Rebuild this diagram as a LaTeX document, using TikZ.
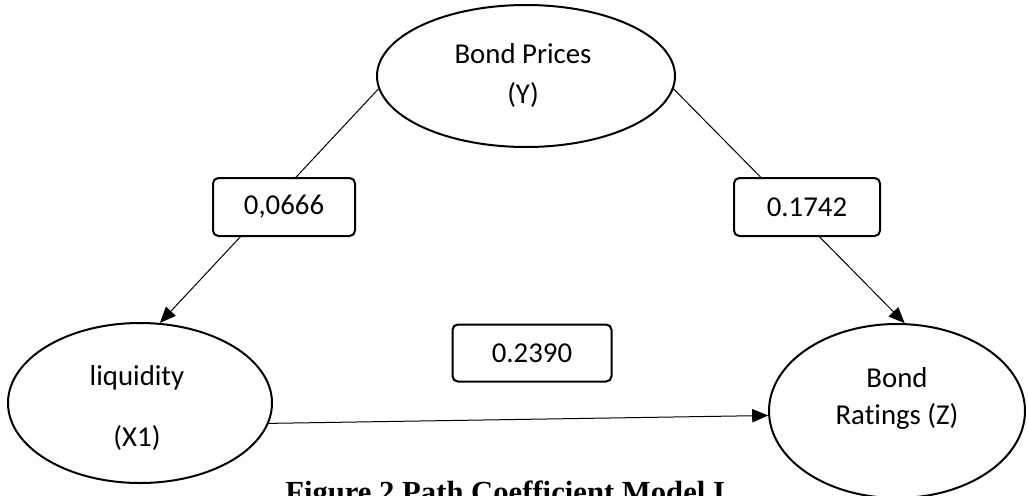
\documentclass[tikz,border=0pt]{standalone}
\usepackage{fontspec}
\setmainfont[Ligatures=NoCommon]{Carlito}
\newfontfamily\capfont{Liberation Serif}
\usetikzlibrary{shapes.geometric,arrows.meta}
\tikzset{
  var/.style={ellipse, draw, line width=1.5pt, inner sep=0pt},
  vtxt/.style={align=center, inner sep=0pt, font=\fontsize{21.6}{26}\selectfont},
  coef/.style={draw, fill=white, rounded corners=4pt, line width=1.5pt, inner sep=0pt,
    font=\fontsize{21.6}{26}\selectfont},
  path/.style={line width=0.75pt, -{Triangle[length=12pt, width=10pt]}}
}
\begin{document}
\begin{tikzpicture}[x=0.75pt, y=-0.75pt]
    \useasboundingbox (0,0) rectangle (1028,496);
    % latent variables
    \node[var, minimum width=223.5pt, minimum height=106.5pt] (Y) at (526,76) {};
    \node[var, minimum width=198pt, minimum height=120pt] (X1) at (140,403) {};
    \node[var, minimum width=192pt, minimum height=130.5pt] (Z) at (897,411) {};
    \node[vtxt] (Ytxt) at (523,75) {Bond Prices\\[4pt](Y)};
    \node[vtxt] (X1txt) at (137,408) {liquidity\\[19.75pt](X1)};
    \node[vtxt] (Ztxt) at (897,398) {Bond\\[1.75pt]Ratings (Z)};
    % paths
    \draw[path] (Y.185) -- (X1.76);
    \draw[path] (Y.355) -- (Z.85);
    \draw[path] (X1.-9) -- (Z.182);
    % coefficients
    \node[coef, minimum width=106.5pt, minimum height=43.5pt] (cYX) at (284,207) {0,0666};
    \node[coef, minimum width=109.5pt, minimum height=43.5pt] (cYZ) at (807,207) {0.1742\hspace{16.5pt}};
    \node[coef, minimum width=119.25pt, minimum height=42.75pt] (cXZ) at (532,353) {0.2390};
    % caption
    \node[anchor=base west, inner sep=0pt, font=\capfont\bfseries\fontsize{23}{28}\selectfont] (cap) at (285,502) {Figure 2 Path Coefficient Model I};
\end{tikzpicture}
\end{document}
